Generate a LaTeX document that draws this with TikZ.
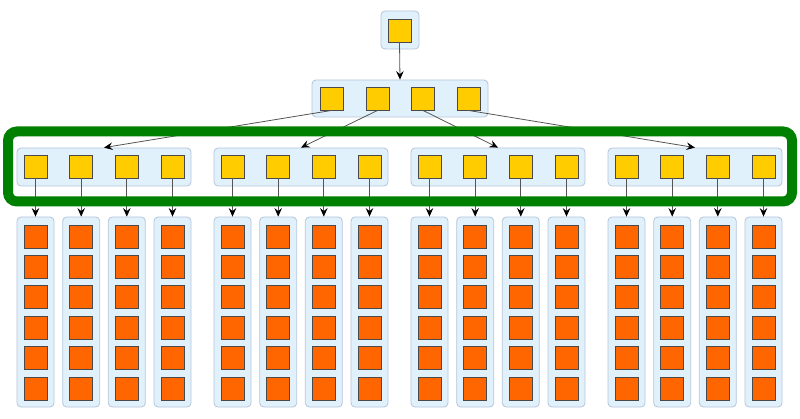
\documentclass[tikz,border=0pt]{standalone}
\usetikzlibrary{arrows.meta}
\definecolor{boxfill}{HTML}{E1F1FC}
\definecolor{boxline}{HTML}{B5C4DA}
\definecolor{yel}{HTML}{FFCC00}
\definecolor{org}{HTML}{FF6600}
\definecolor{grn}{HTML}{008000}
\definecolor{sqline}{HTML}{4A4A4A}
\definecolor{arrline}{HTML}{555555}
\begin{document}
\begin{tikzpicture}[x=1pt,y=-1pt,
  grp/.style={draw=boxline, fill=boxfill, rounded corners=4pt, line width=0.8pt, inner sep=0pt},
  ysq/.style={draw=sqline, fill=yel, minimum size=23pt, inner sep=0pt, line width=0.9pt},
  osq/.style={draw=sqline, fill=org, minimum size=23pt, inner sep=0pt, line width=0.9pt},
  arr/.style={draw=arrline, line width=0.8pt, -{Stealth[length=8.5pt,width=7.5pt,inset=3pt,color=black]}},
  frame/.style={draw=grn, line width=10pt, rounded corners=9pt, inner sep=0pt}]
\useasboundingbox (0,0) rectangle (800,419);
% top
\node[grp, minimum width=38pt, minimum height=38pt] (tb) at (400,30) {};
\node[ysq] (ts) at (399.5,30.5) {};
% level 2
\node[grp, minimum width=176pt, minimum height=37pt] (l2b) at (400,98.5) {};
\foreach \j/\x in {1/331.5,2/377.5,3/423,4/468.5}{
  \node[ysq] (l2s\j) at (\x,98.5) {};
}
\draw[arr] (ts.south) -- (l2b.north);
% level 3 and 4
\foreach \i in {1,...,4}{
  \pgfmathsetmacro{\gx}{104+197*(\i-1)}
  \node[grp, minimum width=174pt, minimum height=38pt] (g\i) at (\gx,167) {};
  \foreach \j/\off in {1/-68.5,2/-22.8,3/22.8,4/68.5}{
    \pgfmathsetmacro{\cx}{\gx+\off}
    \node[ysq] (s\i\j) at (\cx,166.5) {};
    \node[grp, minimum width=37pt, minimum height=190pt] (c\i\j) at (\cx,312) {};
    \foreach \k in {1,...,6}{
      \node[osq] (o\i\j\k) at (\cx,{236.5+30.4*(\k-1)}) {};
    }
    \draw[arr] (s\i\j.south) -- (c\i\j.north);
  }
  \draw[arr] (l2s\i.south) -- (g\i.north);
}
% green frame
\node[frame, minimum width=784pt, minimum height=70pt] (fr) at (400,166.5) {};
\end{tikzpicture}
\end{document}
